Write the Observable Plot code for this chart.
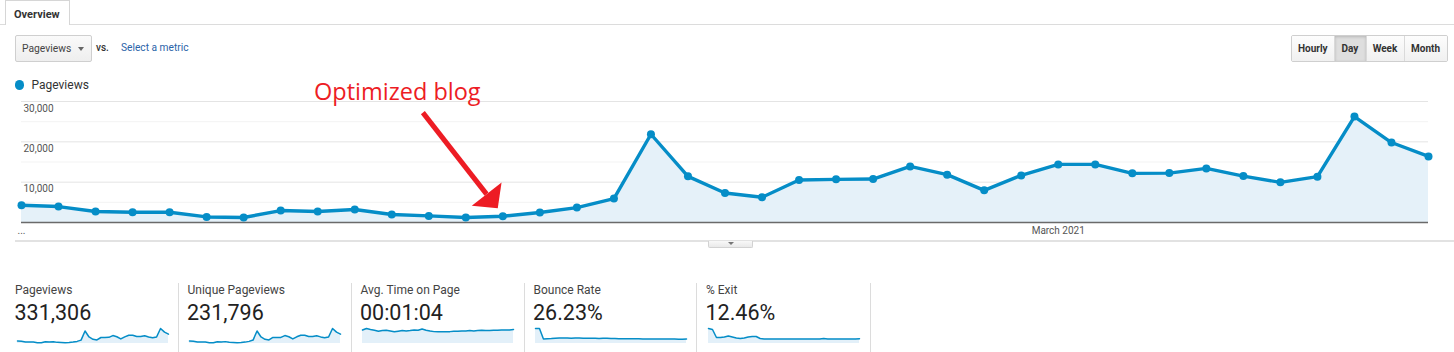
<!DOCTYPE html>
<html>
<head>
<meta charset="utf-8">
<script src="https://cdn.jsdelivr.net/npm/d3@7"></script>
<script src="https://cdn.jsdelivr.net/npm/@observablehq/plot@0.6"></script>
<style>
  html, body { margin: 0; padding: 0; }
  body { width: 1454px; height: 352px; overflow: hidden; background: #fff; position: relative;
         font-family: Roboto, "Open Sans", Arial, sans-serif; color: #333; }
  .abs { position: absolute; }
  #topline { left: 0; top: 24px; width: 1454px; height: 1px; background: #dcdcdc; }
  #tab { left: 5px; top: 0; width: 65px; height: 25px; background: #fff; border: 1px solid #d6d6d6;
         border-bottom: none; box-sizing: border-box; font-size: 11px; font-weight: 700; color: #333;
         display: flex; align-items: center; padding-left: 8px; padding-top: 2px; }
  #dropdown { left: 15px; top: 35px; width: 77px; height: 27px; box-sizing: border-box; border: 1px solid #cfcfcf;
              border-radius: 2px; background: linear-gradient(#fafafa, #eeeeee); font-size: 10.3px; color: #444;
              display: flex; align-items: center; padding-left: 6px; }
  #caret { left: 62px; top: 11px; width: 0; height: 0; border-left: 3.5px solid transparent;
           border-right: 3.5px solid transparent; border-top: 4px solid #666; }
  #vs { left: 96px; top: 41px; font-size: 10px; color: #333; font-weight: 500; line-height: 14px; }
  #selmetric { left: 121px; top: 41px; font-size: 10.2px; color: #2a63a8; line-height: 14px; }
  #buttons { left: 1291px; top: 35px; height: 27px; display: flex; border: 1px solid #cfcfcf; border-radius: 2px;
             box-sizing: border-box; overflow: hidden; }
  .btn { height: 100%; display: flex; align-items: center; justify-content: center; font-size: 10px; font-weight: 700;
         color: #333; background: linear-gradient(#fdfdfd, #f0f0f0); border-left: 1px solid #dadada; box-sizing: border-box; }
  .btn:first-child { border-left: none; }
  .btn.on { background: #dedede; box-shadow: inset 0 1px 3px rgba(0,0,0,0.18); }
  #legdot { left: 14.5px; top: 80px; width: 9.5px; height: 9.5px; border-radius: 50%; background: #058dc7; }
  #legtxt { left: 31.5px; top: 78px; font-size: 12px; line-height: 14px; color: #333; }
  #chart { left: 0; top: 70px; }
  #grip { left: 15px; top: 240px; width: 1439px; height: 2px; background: #e2e2e2; }
  #handle { left: 708px; top: 241px; width: 45px; height: 7px; box-sizing: border-box; background: linear-gradient(#f8f8f8, #e9e9e9);
            border: 1px solid #d2d2d2; border-top: none; border-radius: 0 0 2px 2px; }
  #handle i { position: absolute; left: 19px; top: 1px; width: 0; height: 0; border-left: 3px solid transparent;
              border-right: 3px solid transparent; border-top: 3.5px solid #777; }
  .sep { top: 283px; width: 1px; height: 69px; background: #dcdcdc; }
  .mtitle { font-size: 12px; line-height: 14px; color: #444; white-space: nowrap; }
  .mvalue { font-size: 21.5px; line-height: 24px; color: #222; white-space: nowrap; }
</style>
</head>
<body>
<script>
// ---------------- data ----------------
const firstDay = "2021-02-01";
// daily pageviews, Feb 1 – Mar 11 2021
const pageviews = [4270, 3950, 2720, 2540, 2540, 1380, 1235, 2960, 2720, 3210,
                   1980, 1630, 1235, 1560, 2470, 3700, 5930, 21880, 11440, 7310,
                   6250, 10520, 10700, 10770, 13900, 11860, 7980, 11680, 14400, 14400,
                   12180, 12250, 13410, 11510, 9950, 11360, 26260, 19830, 16380];
const uniquePageviews = [3000, 2800, 1900, 1800, 1800, 1000, 900, 2100, 1900, 2300,
                         1400, 1200, 900, 1100, 1700, 2600, 4200, 15300, 8000, 5100,
                         4400, 7400, 7500, 7500, 9700, 8300, 5600, 8200, 10100, 10100,
                         8500, 8600, 9400, 8100, 7000, 8000, 18400, 13900, 11500];
const avgTimeSec = [65, 72, 67, 64, 59, 62, 64, 60, 56, 59, 62, 60, 62, 65, 64, 70, 64, 60, 57, 56,
                    56, 57, 57, 59, 59, 60, 60, 62, 60, 62, 64, 62, 62, 64, 64, 65, 65, 65, 67];
const bounceRate = [70, 70, 21, 22, 23, 25, 26, 26, 26, 25, 26, 26, 25, 25, 24, 24, 23, 24, 24, 23,
                    23, 22, 22, 22, 22, 22, 22, 21, 21, 21, 21, 21, 21, 21, 21, 21, 20, 20, 21];
const exitRate = [30, 28, 12, 12, 13, 15, 13, 11, 10, 11, 13, 14, 14, 10, 9, 9, 9, 9, 9, 9,
                  9, 9, 9, 9, 9, 9, 9, 9, 9, 10, 9, 9, 9, 9, 9, 9, 9, 9, 9.5];

const yTicks = [10000, 20000, 30000];
const yMinorTicks = [5000, 15000, 25000];
const xTickDates = ["2021-02-01", "2021-03-01"];
const xTickLabels = ["...", "March 2021"];

const metricNames = ["Pageviews", "Unique Pageviews", "Avg. Time on Page", "Bounce Rate", "% Exit"];
const metricValues = ["331,306", "231,796", "00:01:04", "26.23%", "12.46%"];
const metricSeries = [pageviews, uniquePageviews, avgTimeSec, bounceRate, exitRate];

const intervalButtons = ["Hourly", "Day", "Week", "Month"];
const selectedInterval = "Day";
const seriesName = "Pageviews";

// annotation anchored in data space (days after Feb 1, pageviews)
const annotationLabel = "Optimized blog";
const annotationTextAt = [10.15, 30420];
const annotationFrom = [10.84, 27240];
const annotationTo = [12.56, 7040];
const annotationHead = [12.68, 5660];

// ---------------- page chrome ----------------
const body = document.body;
function el(tag, cls, id, html) {
  const e = document.createElement(tag);
  if (cls) e.className = cls;
  if (id) e.id = id;
  if (html != null) e.textContent = html;
  return e;
}
body.appendChild(el("div", "abs", "topline"));
body.appendChild(el("div", "abs", "tab", "Overview"));
const dd = el("div", "abs", "dropdown", seriesName);
const caret = el("div", "abs", "caret"); dd.appendChild(caret);
body.appendChild(dd);
body.appendChild(el("div", "abs", "vs", "vs."));
body.appendChild(el("div", "abs", "selmetric", "Select a metric"));
const btns = el("div", "abs", "buttons");
const btnWidths = [41.5, 32, 38, 43];
intervalButtons.forEach((b, i) => {
  const e = el("div", "btn" + (b === selectedInterval ? " on" : ""), null, b);
  e.style.width = btnWidths[i] + "px";
  btns.appendChild(e);
});
body.appendChild(btns);

// ---------------- main chart ----------------
const blue = "#058dc7";
const red = "#ed1c24";
const t0 = new Date(firstDay + "T00:00:00Z");
const days = pageviews.map((_, i) => d3.utcDay.offset(t0, i));
const rows = pageviews.map((v, i) => ({date: days[i], value: v}));
const dayAt = d => new Date(+t0 + d * 864e5);
const xTicks = xTickDates.map((d, i) => ({date: new Date(d + "T00:00:00Z"), label: xTickLabels[i]}));
const ann = [{
  tx: dayAt(annotationTextAt[0]), ty: annotationTextAt[1],
  x1: dayAt(annotationFrom[0]), y1: annotationFrom[1],
  x2: dayAt(annotationTo[0]), y2: annotationTo[1],
  hx: dayAt(annotationHead[0]), hy: annotationHead[1]
}];
const headAngle = 142 * Math.PI / 180;
const headSymbol = {
  draw(ctx, size) {
    const r = Math.sqrt(size / Math.PI);
    const pts = [[0, -0.61 * r], [1.05 * r, 0.39 * r], [-1.05 * r, 0.39 * r]];
    const c = Math.cos(headAngle), s = Math.sin(headAngle);
    pts.forEach(([px, py], i) => {
      const X = px * c - py * s, Y = px * s + py * c;
      if (i === 0) ctx.moveTo(X, Y); else ctx.lineTo(X, Y);
    });
    ctx.closePath();
  }
};

const chart = Plot.plot({
  width: 1454, height: 170,
  marginLeft: 21, marginRight: 26, marginTop: 31, marginBottom: 18,
  style: {fontFamily: "Roboto, Arial, sans-serif", fontSize: "10px", background: "transparent", overflow: "visible"},
  x: {type: "utc", domain: [days[0], days[days.length - 1]], axis: null},
  y: {domain: [0, 30000], axis: null},
  marks: [
    Plot.ruleY(yMinorTicks, {stroke: "#f3f3f3"}),
    Plot.ruleY(yTicks, {stroke: "#e4e4e4"}),
    Plot.areaY(rows, {x: "date", y: "value", fill: "#e5f1f9"}),
    Plot.ruleY([0], {stroke: "#6a6a6a", strokeWidth: 1.4}),
    Plot.line(rows, {x: "date", y: "value", stroke: blue, strokeWidth: 3.4}),
    Plot.dot(rows, {x: "date", y: "value", fill: blue, r: 4}),
    Plot.text(yTicks, {y: d => d, text: d => d3.format(",")(d), frameAnchor: "left", textAnchor: "start",
                       dx: 2, dy: 7, fill: "#555"}),
    Plot.text(xTicks, {x: "date", text: "label", frameAnchor: "bottom", dy: 11, fill: "#555"}),
    Plot.link(ann, {x1: "x1", y1: "y1", x2: "x2", y2: "y2", stroke: red, strokeWidth: 5}),
    Plot.dot(ann, {x: "hx", y: "hy", r: 18, symbol: headSymbol, fill: red, stroke: "none"}),
    Plot.text(ann, {x: "tx", y: "ty", text: () => annotationLabel, lineAnchor: "bottom", textAnchor: "middle",
                    fill: red, fontSize: 23.5, fontFamily: "'Open Sans', 'Noto Sans', sans-serif"})
  ]
});
chart.id = "chart";
chart.classList.add("abs");
body.appendChild(chart);

body.appendChild(el("div", "abs", "legdot"));
body.appendChild(el("div", "abs", "legtxt", seriesName));
body.appendChild(el("div", "abs", "grip"));
const handle = el("div", "abs", "handle");
handle.appendChild(document.createElement("i"));
body.appendChild(handle);

// ---------------- metric tiles ----------------
const tileLefts = [5, 177.5, 350.5, 523.5, 696];
const tileSeps = [177.5, 350.5, 523.5, 696, 869.5];
tileSeps.forEach(x => { const s = el("div", "abs sep"); s.style.left = x + "px"; body.appendChild(s); });
metricNames.forEach((name, i) => {
  const left = tileLefts[i] + 10;
  const t = el("div", "abs mtitle", null, name);
  t.style.left = left + "px"; t.style.top = "283px";
  body.appendChild(t);
  const v = el("div", "abs mvalue", null, metricValues[i]);
  v.style.left = (left - 0.5) + "px"; v.style.top = "301px";
  body.appendChild(v);
  const vals = metricSeries[i];
  const sp = Plot.plot({
    width: 151, height: 22, marginLeft: 0, marginRight: 0, marginTop: 6, marginBottom: 1,
    style: {background: "transparent", overflow: "visible"},
    x: {domain: [0, vals.length - 1], axis: null},
    y: {domain: [0, d3.max(vals)], axis: null},
    marks: [
      Plot.areaY(vals, {x: (d, j) => j, y: d => d, fill: "#e3f0f9"}),
      Plot.lineY(vals, {x: (d, j) => j, y: d => d, stroke: blue, strokeWidth: 1.5})
    ]
  });
  sp.classList.add("abs");
  sp.style.left = (left + 1.5) + "px";
  sp.style.top = "322px";
  body.appendChild(sp);
});
</script>
</body>
</html>
